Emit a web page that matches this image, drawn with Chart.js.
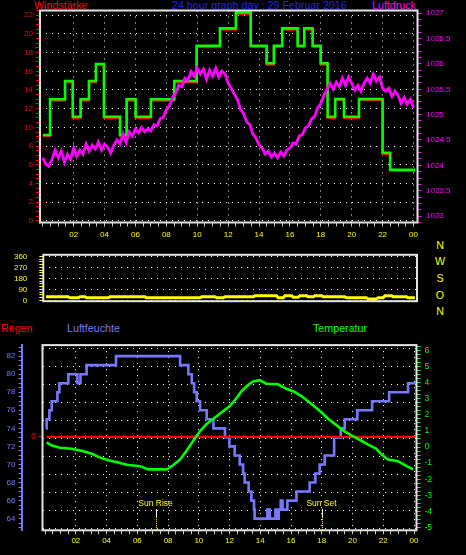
<!DOCTYPE html>
<html><head><meta charset="utf-8">
<script src="https://cdn.jsdelivr.net/npm/chart.js@4/dist/chart.umd.min.js"></script>
<style>
html,body{margin:0;padding:0;background:#000;width:466px;height:555px;overflow:hidden;}
.t{position:absolute;font-family:"Liberation Sans",Arial,sans-serif;font-size:10.7px;line-height:11px;white-space:nowrap;}
.d{position:absolute;left:430px;width:20px;text-align:center;font-family:"Liberation Sans",Arial,sans-serif;font-size:10.7px;line-height:11px;color:#ffff00;}
canvas{position:absolute;left:0;}
</style></head><body>
<div class="t" style="left:34px;top:0px;color:#ff0000">Windstärke</div>
<div class="t" style="left:172px;top:0px;color:#2020ff">24 hour graph day : 29 Februar 2016</div>
<div class="t" style="left:372px;top:0px;color:#ff00ff">Luftdruck</div>
<div class="t" style="left:1px;top:322.5px;color:#ff0000">Regen</div>
<div class="t" style="left:67px;top:322.5px;color:#7878ff">Luftfeuchte</div>
<div class="t" style="left:313px;top:322.5px;color:#00ff00">Temperatur</div>
<div id="dirl"></div>
<canvas id="c1" width="466" height="240" style="top:0px"></canvas>
<canvas id="c2" width="466" height="80" style="top:238px"></canvas>
<canvas id="c3" width="466" height="219" style="top:336px"></canvas>
<script>
// ---------- data ----------
const hourLabels = ['02','04','06','08','10','12','14','16','18','20','22','00'];
const dirLabels = ['N','W','S','O','N'];

// wind (stepped), hours where a new level starts
const windHours = [0, 0.47, 1.44, 1.94, 2.45, 2.99, 3.44, 3.96, 5.0, 5.43, 6.01, 7.0, 8.51, 9.96, 11.47, 12.5, 13.46, 14.49, 14.96, 15.5, 16.5, 16.93, 17.47, 17.99, 18.44, 18.93, 19.5, 20.47, 22.0, 22.49, 24.1];
const windGust = [9.18, 13.0, 14.96, 11.14, 13.0, 14.96, 16.78, 11.14, 9.18, 13.0, 11.14, 13.0, 14.96, 18.74, 20.6, 22.3, 18.74, 16.86, 18.74, 20.6, 18.74, 20.6, 18.74, 16.86, 11.14, 13.04, 11.14, 13.04, 7.28, 5.46, 5.46];
const windMean = [9.05, 12.85, 14.8, 11.0, 12.85, 14.8, 16.65, 11.0, 9.05, 12.85, 11.0, 12.85, 14.8, 18.58, 20.45, 22.12, 18.6, 16.7, 18.6, 20.45, 18.6, 20.45, 18.6, 16.7, 11.0, 12.9, 11.0, 12.9, 7.15, 5.35, 5.35];

// pressure, every 0.2 hour from 00:00
const pressure = [1024.15,1024.02,1023.98,1024.12,1024.30,1024.15,1024.28,1024.06,1024.22,1024.12,
1024.34,1024.18,1024.30,1024.22,1024.42,1024.28,1024.40,1024.32,1024.46,1024.30,
1024.42,1024.36,1024.24,1024.40,1024.50,1024.42,1024.62,1024.45,1024.66,1024.58,
1024.72,1024.64,1024.75,1024.66,1024.72,1024.68,1024.80,1024.78,1024.92,1024.95,
1025.10,1025.18,1025.34,1025.42,1025.58,1025.55,1025.72,1025.68,1025.85,1025.76,
1025.92,1025.80,1025.90,1025.70,1025.88,1025.76,1025.92,1025.74,1025.86,1025.80,
1025.62,1025.52,1025.40,1025.30,1025.10,1025.02,1024.86,1024.80,1024.62,1024.54,
1024.40,1024.34,1024.22,1024.28,1024.16,1024.24,1024.15,1024.26,1024.18,1024.30,
1024.34,1024.44,1024.42,1024.58,1024.60,1024.74,1024.78,1024.92,1024.96,1025.14,
1025.22,1025.38,1025.50,1025.62,1025.50,1025.64,1025.55,1025.72,1025.58,1025.74,
1025.62,1025.48,1025.58,1025.46,1025.62,1025.72,1025.62,1025.80,1025.66,1025.74,
1025.52,1025.46,1025.52,1025.36,1025.46,1025.38,1025.22,1025.34,1025.20,1025.30,
1025.14];

// wind direction (degrees)
const dirHours = [0.2,1.65,1.76,2.3,2.41,2.73,2.84,4.24,4.35,6.61,6.72,10.17,10.28,11.15,11.25,11.68,11.79,13.63,13.73,15.14,15.24,15.57,15.68,16.11,16.21,16.54,16.65,17.08,17.18,17.51,17.62,18.05,18.16,19.56,19.67,20.96,21.07,21.61,21.71,22.04,22.15,22.58,22.69,23.55,23.66,24.09];
const dirDeg = [30,30,22.5,22.5,31,31,22.5,22.5,30,30,22.5,22.5,30,30,22.5,22.5,30,30,39,39,22.5,22.5,39,39,26,26,39,39,30,30,39,39,30,30,22.5,22.5,13,13,22.5,22.5,39,39,30,30,22.5,22.5];

// humidity (stepped)
const humHours = [0.05,0.10,0.28,0.43,0.80,0.93,1.51,2.10,2.30,2.70,4.61,8.78,9.32,9.54,9.69,9.86,10.08,10.51,10.95,11.70,11.99,12.33,12.66,12.88,12.98,13.24,13.42,13.59,13.63,14.46,14.62,14.98,15.10,15.20,15.33,15.45,15.76,16.35,17.21,17.58,17.86,18.19,18.80,19.23,19.49,20.31,21.27,22.38,23.61,24.09];
const humidity = [74,75,76,77,78,79,80,79,80,81,82,81,80,79,78,77,76,75,74,73,72,71,70,69,68,67,66,65,64,65,64,65,64,65,66,65,66,67,68,69,70,71,73,74,75,76,77,78,79,79];

// temperature
const tempHours = [0.10,0.43,0.97,1.73,2.49,3.03,3.57,4.11,4.76,5.31,6.17,6.71,7.91,8.34,8.78,9.21,9.64,10.08,10.51,10.94,11.49,11.98,12.34,12.77,13.20,13.53,13.96,14.39,15.15,15.69,16.24,16.67,17.10,17.54,17.97,18.41,18.84,19.38,19.92,20.47,21.01,21.55,21.87,22.31,22.96,23.40,23.94];
const temperature = [0.29,0.09,-0.05,-0.11,-0.26,-0.42,-0.66,-0.82,-0.96,-1.10,-1.19,-1.39,-1.39,-1.12,-0.78,-0.22,0.39,0.99,1.44,1.76,2.16,2.52,2.91,3.46,3.86,4.08,4.16,3.94,3.90,3.62,3.42,3.17,2.85,2.51,2.16,1.76,1.44,1.04,0.73,0.45,0.15,-0.11,-0.45,-0.78,-0.88,-1.12,-1.39];

// rain
const rainHours = [0.1, 24.1];
const rain = [0, 0];

// sun events
const sunLabels = ['Sun Rise', 'Sun Set'];
const sunHours = [7.24, 18.03];

// ---------- helpers ----------
const pts = (xs, ys) => xs.map((x, i) => ({x: x, y: ys[i]}));
const pressHours = pressure.map((_, i) => i * 0.2);
const FONT = "'Liberation Sans', Arial, sans-serif";
Chart.defaults.font.family = FONT;
const CLEAR = 'rgba(0,0,0,0)';
const DOT = [1, 5];
const hourTick = v => (v >= 2 && v % 2 === 0) ? hourLabels[v / 2 - 1] : '';
const hourGrid = c => (c.tick && c.tick.value >= 2 && c.tick.value % 2 === 0) ? '#ffffff' : CLEAR;

const framePlugin = {
  id: 'frame',
  afterDatasetsDraw(chart) {
    const a = chart.chartArea, c = chart.ctx;
    c.save(); c.setLineDash([]); c.strokeStyle = '#e4e4e4'; c.lineWidth = 2;
    c.strokeRect(a.left, a.top, a.right - a.left, a.bottom - a.top);
    c.restore();
  }
};
const sunPlugin = {
  id: 'sun',
  afterDatasetsDraw(chart) {
    const c = chart.ctx, xs = chart.scales.x, a = chart.chartArea;
    c.save();
    sunHours.forEach((h, i) => {
      const x = Math.round(xs.getPixelForValue(h)) + 0.5;
      c.font = '8.5px ' + FONT; c.fillStyle = '#ffff00'; c.textAlign = 'center'; c.textBaseline = 'middle';
      c.fillText(sunLabels[i], x - 1, a.top + 158.5);
      c.lineWidth = 1; c.setLineDash([]); c.strokeStyle = '#ffffff';
      c.beginPath(); c.moveTo(x, a.top + 164); c.lineTo(x, a.top + 172); c.stroke();
      c.strokeStyle = '#ffff00'; c.setLineDash([1, 1]);
      c.beginPath(); c.moveTo(x, a.top + 172); c.lineTo(x, a.bottom); c.stroke();
    });
    c.restore();
  }
};
const base = {
  responsive: false, animation: false, devicePixelRatio: 1,
  plugins: {legend: {display: false}, tooltip: {enabled: false}},
  elements: {point: {radius: 0, hoverRadius: 0}, line: {tension: 0}}
};
const fixW = w => (s => { s.width = w; });
const fixH = h => (s => { s.height = h; });

// ---------- top chart ----------
new Chart(document.getElementById('c1'), {
  type: 'line',
  data: {datasets: [
    {data: pts(pressHours, pressure), yAxisID: 'yP', borderColor: '#ff00ff', borderWidth: 2.8, order: 0},
    {data: pts(windHours, windGust), yAxisID: 'yW', borderColor: '#00ff00', borderWidth: 2.6, stepped: true, order: 1},
    {data: pts(windHours, windMean), yAxisID: 'yW', borderColor: '#ff0000', borderWidth: 2, stepped: true, order: 2}
  ]},
  options: Object.assign({}, base, {
    layout: {padding: {top: 10.5, left: 0, right: 0, bottom: 0}},
    scales: {
      x: {type: 'linear', min: -0.18, max: 24.26, afterFit: fixH(17.5),
        ticks: {stepSize: 0.5, includeBounds: false, autoSkip: false, maxRotation: 0, callback: hourTick, color: '#ffff00', font: {size: 8}, padding: 3.7},
        grid: {color: hourGrid, tickColor: '#c8c8c8', tickLength: 4, lineWidth: 1},
        border: {display: false, dash: DOT}},
      yW: {position: 'left', min: -0.19, max: 22.51, afterFit: fixW(40),
        ticks: {stepSize: 0.5, includeBounds: false, autoSkip: false, callback: v => v % 2 === 0 ? String(v) : '', color: '#ff0000', font: {size: 8}, padding: 3},
        grid: {color: c => (c.tick && c.tick.value % 2 === 0) ? '#ffffff' : CLEAR, tickColor: '#ff0000', tickLength: 4},
        border: {display: false, dash: DOT}},
      yP: {position: 'right', min: 1022.872, max: 1027.055, afterFit: fixW(48.5),
        ticks: {stepSize: 0.125, includeBounds: false, autoSkip: false, callback: v => v % 0.5 === 0 ? (Number.isInteger(v) ? String(v) : v.toFixed(1)) : '', color: '#ff00ff', font: {size: 8}, padding: 4.5},
        grid: {drawOnChartArea: false, tickColor: '#ff00ff', tickLength: 4},
        border: {display: false}}
    }
  }),
  plugins: [framePlugin]
});

// ---------- middle chart ----------
new Chart(document.getElementById('c2'), {
  type: 'line',
  data: {datasets: [
    {data: pts(dirHours, dirDeg), yAxisID: 'yD', borderColor: '#ffff00', borderWidth: 3}
  ]},
  options: Object.assign({}, base, {
    layout: {padding: {top: 3.7, left: 0, right: 49, bottom: 9}},
    scales: {
      x: {type: 'linear', display: false, min: 0.03, max: 24.23},
      yD: {position: 'left', min: -5.6, max: 372.9, afterFit: fixW(43.3),
        ticks: {stepSize: 22.5, includeBounds: false, autoSkip: false, callback: v => v % 90 === 0 ? String(v) : '', color: '#ffff00', font: {size: 8}, padding: 12},
        grid: {color: c => (c.tick && c.tick.value % 90 === 0) ? '#ffffff' : CLEAR, tickColor: '#ffff00', tickLength: 4},
        border: {display: false, dash: DOT}}
    }
  }),
  plugins: [framePlugin]
});
// direction letters
(function(){
  const tops = [239.6, 256.3, 272.9, 289.6, 305.6];
  const host = document.getElementById('dirl');
  dirLabels.forEach((l, i) => {
    const d = document.createElement('div'); d.className = 'd'; d.style.top = tops[i] + 'px'; d.textContent = l; host.appendChild(d);
  });
})();

// ---------- bottom chart ----------
new Chart(document.getElementById('c3'), {
  type: 'line',
  data: {datasets: [
    {data: pts(tempHours, temperature), yAxisID: 'yT', borderColor: '#00ff00', borderWidth: 2.6, order: 0},
    {data: pts(rainHours, rain), yAxisID: 'yR', borderColor: '#ff0000', borderWidth: 2.2, order: 1},
    {data: pts(humHours, humidity), yAxisID: 'yH', borderColor: '#7878ff', borderWidth: 2.6, stepped: true, order: 2}
  ]},
  options: Object.assign({}, base, {
    layout: {padding: {top: 3.7, left: 0, right: 0, bottom: 0}},
    scales: {
      x: {type: 'linear', min: -0.17, max: 24.16, afterFit: fixH(24.7),
        ticks: {stepSize: 0.5, includeBounds: false, autoSkip: false, maxRotation: 0, callback: hourTick, color: '#ffff00', font: {size: 8}, padding: 2},
        grid: {color: hourGrid, tickColor: '#c8c8c8', tickLength: 4},
        border: {display: false, dash: DOT}},
      yR: {position: 'left', weight: 0, min: -5.045, max: 4.955, afterFit: fixW(21),
        afterBuildTicks: s => { s.ticks = [{value: 0}]; },
        ticks: {color: '#ff0000', font: {size: 8.5}, padding: 2.5, callback: v => String(v)},
        grid: {drawOnChartArea: false, tickColor: '#ff0000', tickLength: 4},
        border: {display: false}},
      yH: {position: 'left', weight: 1, min: 62.71, max: 83.22, afterFit: fixW(21.5),
        ticks: {stepSize: 0.5, includeBounds: false, autoSkip: false, callback: v => v % 2 === 0 ? String(v) : '', color: '#7878ff', font: {size: 8}, padding: 3},
        grid: {drawOnChartArea: false, tickColor: '#7878ff', tickLength: 3},
        border: {display: true, color: '#7878ff', width: 2}},
      yG: {position: 'left', weight: 2, min: -0.086, max: 10.216, afterFit: fixW(0),
        ticks: {display: false, stepSize: 1, includeBounds: false},
        grid: {color: '#ffffff', drawTicks: false},
        border: {display: false, dash: DOT}},
      yT: {position: 'right', min: -5.18, max: 6.34, afterFit: fixW(49.5),
        ticks: {stepSize: 0.25, includeBounds: false, autoSkip: false, callback: v => Number.isInteger(v) ? String(v) : '', color: '#00ff00', font: {size: 8.5}, padding: 4},
        grid: {drawOnChartArea: false, tickColor: '#00ff00', tickLength: 4},
        border: {display: false}}
    }
  }),
  plugins: [framePlugin, sunPlugin]
});
</script>
</body></html>
